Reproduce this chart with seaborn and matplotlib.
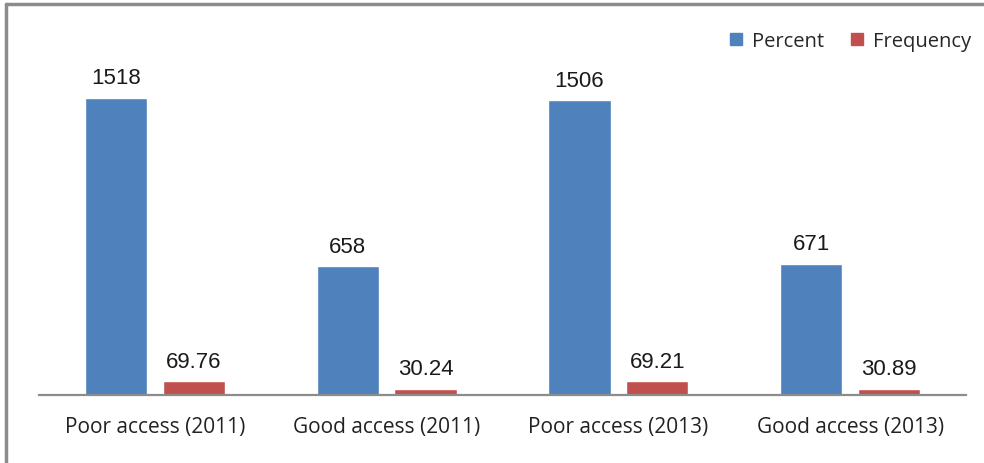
import numpy as np
import pandas as pd
import matplotlib
matplotlib.use("Agg")
import matplotlib.pyplot as plt
import seaborn as sns
from matplotlib.lines import Line2D

categories = ["Poor access (2011)", "Good access (2011)", "Poor access (2013)", "Good access (2013)"]
percent = [1518, 658, 1506, 671]
frequency = [69.76, 30.24, 69.21, 30.89]
series = ["Percent", "Frequency"]
colors = ["#4F81BD", "#C0504D"]

df = pd.DataFrame({
    "category": categories * 2,
    "value": percent + frequency,
    "series": [series[0]] * 4 + [series[1]] * 4,
})

sns.set_style("white")
plt.rcParams["font.family"] = ["Liberation Sans", "DejaVu Sans"]

W, H = 984, 464
fig = plt.figure(figsize=(W / 100, H / 100), dpi=100)
ax = fig.add_axes([39 / W, (H - 396) / H, (966 - 39) / W, (396 - 40) / H])

sns.barplot(data=df, x="category", y="value", hue="series", palette=colors,
            width=0.672, gap=0.2, saturation=1, ax=ax, legend=False)

ax.set_ylim(0, 1518 * 356 / 297)
ax.set_xlim(-0.5, 3.5)
for c in ax.containers:
    ax.bar_label(c, fmt="%g", padding=7, fontsize=16, color="#1a1a1a")

sns.despine(ax=ax, left=True)
ax.spines["bottom"].set_color("#8c8c8c")
ax.spines["bottom"].set_linewidth(1.6)
ax.set_yticks([])
ax.set_xlabel("")
ax.set_ylabel("")
ax.tick_params(axis="x", length=0, pad=15)
for lab in ax.get_xticklabels():
    lab.set_fontfamily(["Open Sans", "DejaVu Sans"])
    lab.set_fontsize(15)
    lab.set_color("#222222")

handles = [Line2D([], [], marker="s", linestyle="", markersize=8,
                  markerfacecolor=col, markeredgecolor=col) for col in colors]
fig.legend(handles, series, loc="center right", bbox_to_anchor=(971 / W, 1 - 42 / H),
           ncol=2, frameon=False, handletextpad=0.3, columnspacing=1.1,
           handlelength=1.0, borderpad=0, borderaxespad=0,
           prop={"family": "Open Sans", "size": 14.5})

# outer frame (top and left edges visible)
fig.add_artist(Line2D([6 / W, 1.0], [1 - 5 / H, 1 - 5 / H], transform=fig.transFigure,
                      color="#8c8c8c", linewidth=2.5))
fig.add_artist(Line2D([6 / W, 6 / W], [0, 1 - 5 / H], transform=fig.transFigure,
                      color="#8c8c8c", linewidth=2.5))

fig.savefig("out.png", dpi=100)
